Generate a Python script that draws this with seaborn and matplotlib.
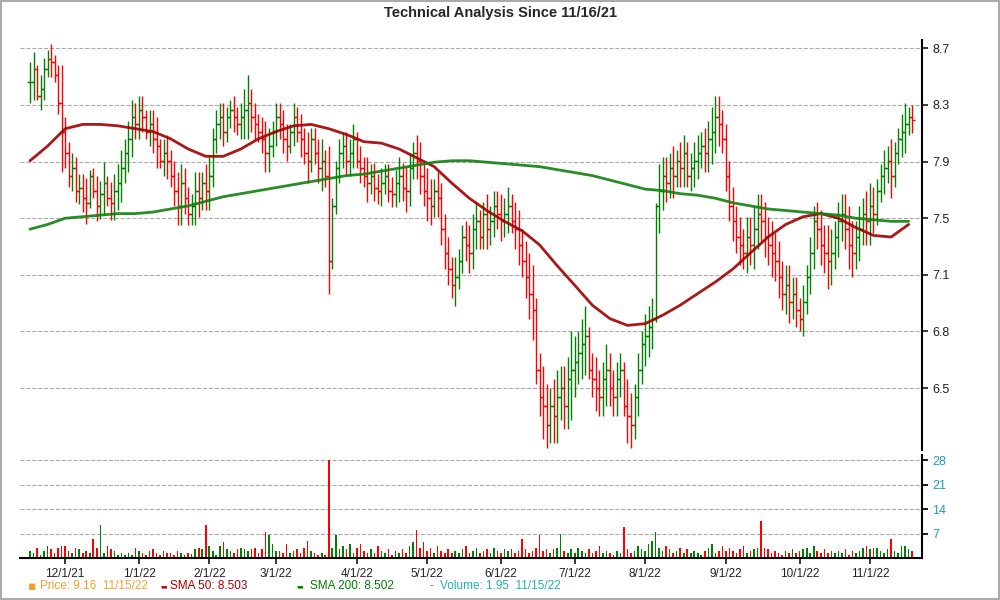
import numpy as np
import pandas as pd
import matplotlib
matplotlib.use("Agg")
import matplotlib.pyplot as plt
import seaborn as sns

closes = [
 8.45,8.55,8.35,8.40,8.55,8.62,8.60,8.50,8.30,8.10,
 7.95,7.80,7.85,7.70,7.72,7.65,7.62,7.80,7.70,7.60,7.68,7.75,7.65,7.62,7.70,7.75,7.85,7.95,8.05,8.20,8.15,8.25,
 8.20,8.10,8.15,8.05,8.00,7.90,7.95,7.90,7.80,7.70,7.60,7.75,7.65,7.55,7.60,7.70,7.65,7.75,7.70,7.80,
 8.05,8.15,8.20,8.10,8.20,8.25,8.20,8.15,8.20,8.25,8.30,8.20,8.15,8.10,8.05,7.95,8.00,8.10,8.20,
 8.15,8.05,8.00,8.10,8.20,8.10,8.05,7.95,7.90,8.05,7.95,7.85,7.90,7.80,7.25,7.60,7.85,7.95,8.00,7.90,7.95,8.05,7.90,
 7.85,7.80,7.75,7.80,7.72,7.70,7.75,7.80,7.70,7.68,7.75,7.80,7.72,7.70,7.85,7.95,7.90,7.80,7.70,7.65,
 7.60,7.70,7.65,7.45,7.30,7.20,7.10,7.15,7.25,7.40,7.35,7.30,7.45,7.50,7.40,7.55,7.45,7.50,7.60,7.55,7.50,
 7.55,7.60,7.50,7.45,7.35,7.25,7.15,7.05,6.95,6.60,6.45,6.40,6.30,6.40,6.35,6.45,6.50,6.40,6.55,6.60,6.65,
 6.70,6.75,6.80,6.60,6.55,6.50,6.45,6.55,6.60,6.50,6.45,6.55,6.60,6.40,6.35,6.30,6.45,6.60,6.75,6.80,
 6.85,6.90,7.60,7.70,7.80,7.75,7.85,7.80,7.90,7.85,7.95,7.80,7.85,7.90,7.95,8.00,7.95,8.05,8.10,8.20,8.15,8.05,7.80,
 7.60,7.50,7.40,7.35,7.30,7.40,7.35,7.45,7.55,7.50,7.40,7.35,7.30,7.25,7.15,7.05,7.10,7.00,7.05,6.95,6.90,
 7.00,7.15,7.30,7.50,7.45,7.35,7.30,7.25,7.30,7.40,7.50,7.55,7.45,7.35,7.30,7.40,7.45,7.55,7.50,7.60,7.55,
 7.70,7.80,7.85,7.90,7.80,7.95,8.05,8.10,8.15,8.20,8.18]

spreads = [
 0.30,0.35,0.25,0.25,0.30,0.20,0.25,0.20,0.35,0.75,
 0.35,0.30,0.25,0.30,0.20,0.25,0.30,0.25,0.20,0.30,0.25,0.35,0.20,0.25,0.30,0.30,0.35,0.30,0.35,0.40,0.25,0.30,
 0.25,0.20,0.25,0.30,0.35,0.20,0.25,0.30,0.25,0.30,0.35,0.40,0.30,0.25,0.20,0.35,0.30,0.25,0.30,0.35,
 0.40,0.30,0.25,0.30,0.25,0.20,0.25,0.20,0.25,0.35,0.45,0.30,0.25,0.20,0.25,0.35,0.30,0.25,0.30,
 0.25,0.30,0.25,0.20,0.30,0.25,0.30,0.25,0.35,0.30,0.25,0.30,0.35,0.25,0.95,0.45,0.35,0.30,0.25,0.30,0.25,0.30,0.25,
 0.25,0.20,0.30,0.20,0.25,0.20,0.25,0.20,0.25,0.20,0.25,0.30,0.25,0.30,0.35,0.25,0.30,0.35,0.30,0.35,
 0.30,0.25,0.30,0.40,0.35,0.30,0.25,0.30,0.25,0.30,0.25,0.30,0.35,0.30,0.25,0.30,0.35,0.25,0.30,0.25,0.30,
 0.25,0.30,0.25,0.30,0.35,0.30,0.35,0.40,0.45,0.50,0.35,0.40,0.35,0.30,0.35,0.40,0.30,0.35,0.40,0.50,0.35,
 0.30,0.35,0.40,0.30,0.25,0.30,0.25,0.30,0.35,0.30,0.25,0.30,0.25,0.30,0.35,0.30,0.30,0.35,0.30,0.30,
 0.30,0.30,0.55,0.45,0.35,0.30,0.30,0.35,0.25,0.30,0.35,0.30,0.25,0.30,0.30,0.25,0.30,0.35,0.40,0.40,0.35,0.30,0.45,
 0.40,0.35,0.30,0.30,0.25,0.35,0.30,0.40,0.35,0.30,0.35,0.30,0.35,0.30,0.35,0.30,0.30,0.35,0.25,0.30,0.20,
 0.30,0.30,0.35,0.40,0.30,0.35,0.30,0.40,0.35,0.30,0.35,0.30,0.35,0.40,0.35,0.30,0.35,0.30,0.35,0.40,0.30,
 0.30,0.25,0.30,0.25,0.40,0.30,0.25,0.30,0.35,0.20,0.20]

volumes = [
 2.0,1.5,3.0,1.0,2.0,3.5,2.5,1.5,3.0,3.5,
 3.5,2.0,1.5,3.0,2.5,1.5,2.0,1.5,5.5,3.0,9.5,1.5,3.5,2.5,2.0,1.0,1.5,0.8,1.5,1.0,3.0,2.0,
 1.5,0.8,2.0,2.5,1.5,1.0,2.0,1.5,1.5,1.0,2.0,1.5,1.0,1.5,1.2,2.5,3.0,2.5,9.5,3.5,
 2.0,1.0,3.5,4.5,2.5,2.0,1.5,2.5,3.0,2.5,2.0,2.5,3.0,1.5,2.5,7.5,6.5,4.0,2.0,
 2.0,1.5,4.0,1.5,2.0,2.5,1.5,3.0,5.0,2.0,1.5,1.0,1.5,1.0,28.0,3.0,6.5,2.5,3.5,2.5,4.0,1.5,3.0,
 4.0,2.0,1.5,2.5,1.5,3.5,2.0,1.5,2.5,1.0,2.0,1.5,2.5,1.5,3.5,4.5,8.0,3.0,4.5,2.0,
 3.0,1.5,3.5,2.0,1.5,2.5,1.5,2.0,1.5,2.5,3.5,1.5,2.0,3.0,1.5,2.0,2.5,1.5,3.0,2.0,1.5,
 2.5,2.0,2.5,1.5,2.0,5.5,2.5,1.5,2.0,3.0,6.5,2.0,2.5,1.5,2.5,3.0,7.0,2.0,1.5,2.5,1.5,
 3.0,2.0,1.5,2.5,1.5,2.0,3.5,1.5,2.0,1.5,1.0,2.0,1.5,9.0,2.5,1.5,2.0,3.5,2.5,2.0,
 4.0,5.0,7.5,3.0,2.0,3.5,2.5,1.5,2.0,3.0,1.5,2.5,1.5,2.0,1.5,1.0,2.0,3.0,4.0,1.5,2.0,3.5,2.0,
 3.0,2.0,1.5,2.5,3.5,1.5,2.0,2.5,3.0,10.5,3.0,2.5,1.5,2.0,1.5,1.0,2.0,1.5,2.5,1.5,2.0,
 2.5,3.0,1.5,3.5,2.0,1.5,2.5,1.5,2.0,1.5,2.0,1.5,2.5,1.0,2.0,1.5,2.0,3.0,3.5,2.5,3.0,
 3.0,2.0,1.5,2.5,5.5,2.0,1.5,3.5,3.5,2.5,1.95]

sma_step = 5
sma50 = [7.90,8.00,8.12,8.15,8.15,8.14,8.12,8.10,8.05,7.98,7.93,7.93,7.98,8.05,8.10,8.14,8.15,8.12,8.08,8.03,
         8.02,7.98,7.92,7.86,7.75,7.65,7.57,7.50,7.44,7.35,7.22,7.10,6.98,6.90,6.86,6.87,6.92,6.98,7.05,7.12,
         7.20,7.30,7.40,7.48,7.53,7.55,7.52,7.46,7.41,7.40,7.48]
sma200 = [7.45,7.48,7.52,7.53,7.54,7.55,7.55,7.56,7.58,7.60,7.63,7.66,7.68,7.70,7.72,7.74,7.76,7.78,7.80,7.81,
          7.83,7.85,7.87,7.89,7.90,7.90,7.89,7.88,7.87,7.86,7.84,7.82,7.80,7.77,7.74,7.71,7.70,7.68,7.67,7.65,
          7.62,7.60,7.58,7.57,7.56,7.55,7.54,7.52,7.51,7.50,7.50]

price_ticks = ["8.7", "8.3", "7.9", "7.5", "7.1", "6.8", "6.5"]
vol_ticks = [7, 14, 21, 28]
month_labels = ["12/1/21","1/1/22","2/1/22","3/1/22","4/1/22","5/1/22","6/1/22",
                "7/1/22","8/1/22","9/1/22","10/1/22","11/1/22"]

holidays = ["2021-11-25","2021-12-24","2021-12-31","2022-01-17","2022-02-21","2022-04-15",
            "2022-05-30","2022-06-20","2022-07-04","2022-09-05","2022-10-10"]
n = len(closes)
dates = pd.bdate_range("2021-11-16", periods=n, freq="C", holidays=holidays)

sns.set_theme(style="white")
plt.rcParams['font.family'] = ['Liberation Sans', 'DejaVu Sans']

fig = plt.figure(figsize=(10, 6), dpi=100)
ax = fig.add_axes([0.02, 0.25, 0.902, 0.683])
axv = fig.add_axes([0.02, 0.07, 0.902, 0.172], sharex=ax)

c = np.array(closes); s = np.array(spreads)
o = np.concatenate([[c[0]], c[:-1]])
hi_oc = np.maximum(o, c); lo_oc = np.minimum(o, c)
pad = np.clip((s - (hi_oc - lo_oc)) / 2, 0.02, None)
high = hi_oc + pad; low = lo_oc - pad
cols = np.where(c >= o, "#008000", "#ff0000")
x = np.arange(n)

ax.vlines(x, low, high, colors=cols, lw=1.0)
ax.hlines(o, x - 0.8, x, colors=cols, lw=1.0)
ax.hlines(c, x, x + 0.8, colors=cols, lw=1.0)

sx = np.arange(0, n, sma_step)[:len(sma50)]
sns.lineplot(x=sx, y=sma50, ax=ax, color="#a00000", lw=2, alpha=0.9)
sns.lineplot(x=sx, y=sma200, ax=ax, color="#108010", lw=2, alpha=0.9)

ax.set_yscale("log")
tickvals = 8.7 * 0.9526 ** np.arange(len(price_ticks))
ax.set_ylim(6.165, 8.76)
ax.yaxis.set_major_locator(matplotlib.ticker.FixedLocator(tickvals))
ax.yaxis.set_minor_locator(matplotlib.ticker.NullLocator())
ax.set_yticklabels(price_ticks)
ax.yaxis.tick_right()
ax.grid(axis="y", color="#aaaaaa", ls="--", lw=0.8)
ax.tick_params(axis="y", labelsize=9, colors="#222222", length=4, right=True)
ax.tick_params(axis="x", labelbottom=False, length=0)
ax.set_xlim(-2.85, 253.8)

axv.bar(x, volumes, width=0.45, color=cols, linewidth=0)
axv.set_ylim(0, 29.5)
axv.set_yticks(vol_ticks)
axv.yaxis.tick_right()
axv.grid(axis="y", color="#aaaaaa", ls="--", lw=0.8)
axv.tick_params(axis="y", labelsize=9, labelcolor="#20a0a0", length=4, right=True, color="black")
mpos = [int(np.searchsorted(dates, pd.Timestamp(d))) for d in
        ["2021-12-01","2022-01-01","2022-02-01","2022-03-01","2022-04-01","2022-05-01","2022-06-01",
         "2022-07-01","2022-08-01","2022-09-01","2022-10-01","2022-11-01"]]
axv.set_xticks(mpos)
axv.set_xticklabels(month_labels)
axv.tick_params(axis="x", labelsize=8.5, length=4, bottom=True, colors="#222222")

for a in (ax, axv):
    for sp in ("left", "top"):
        a.spines[sp].set_visible(False)
    a.spines["right"].set_color("black"); a.spines["right"].set_linewidth(1.5)
    a.spines["bottom"].set_color("black")
ax.spines["bottom"].set_visible(False)
axv.spines["bottom"].set_linewidth(1.5)

fig.text(0.5, 0.978, "Technical Analysis Since 11/16/21", ha="center", va="center",
         fontsize=10.5, fontweight="bold")
ly = 0.023
fig.text(0.028, ly, "▪", color="#f0a030", fontsize=9, va="center", family=["DejaVu Sans"])
fig.text(0.04, ly, "Price: 9.16  11/15/22", color="#f0a030", fontsize=8.5, va="center")
fig.text(0.16, ly, "▬", color="#cc0000", fontsize=5, va="center", family=["DejaVu Sans"])
fig.text(0.17, ly, "SMA 50: 8.503", color="#aa0000", fontsize=8.5, va="center")
fig.text(0.296, ly, "▬", color="#008000", fontsize=5, va="center", family=["DejaVu Sans"])
fig.text(0.31, ly, "SMA 200: 8.502", color="#008000", fontsize=8.5, va="center")
fig.text(0.43, ly, "-", color="#20b0b0", fontsize=8.5, va="center")
fig.text(0.44, ly, "Volume: 1.95  11/15/22", color="#20b0b0", fontsize=8.5, va="center")

fig.patches.append(matplotlib.patches.Rectangle((0.001, 0.001), 0.998, 0.998, transform=fig.transFigure,
                   fill=False, edgecolor="#999999", lw=1.2))
fig.savefig("out.png", dpi=100)
